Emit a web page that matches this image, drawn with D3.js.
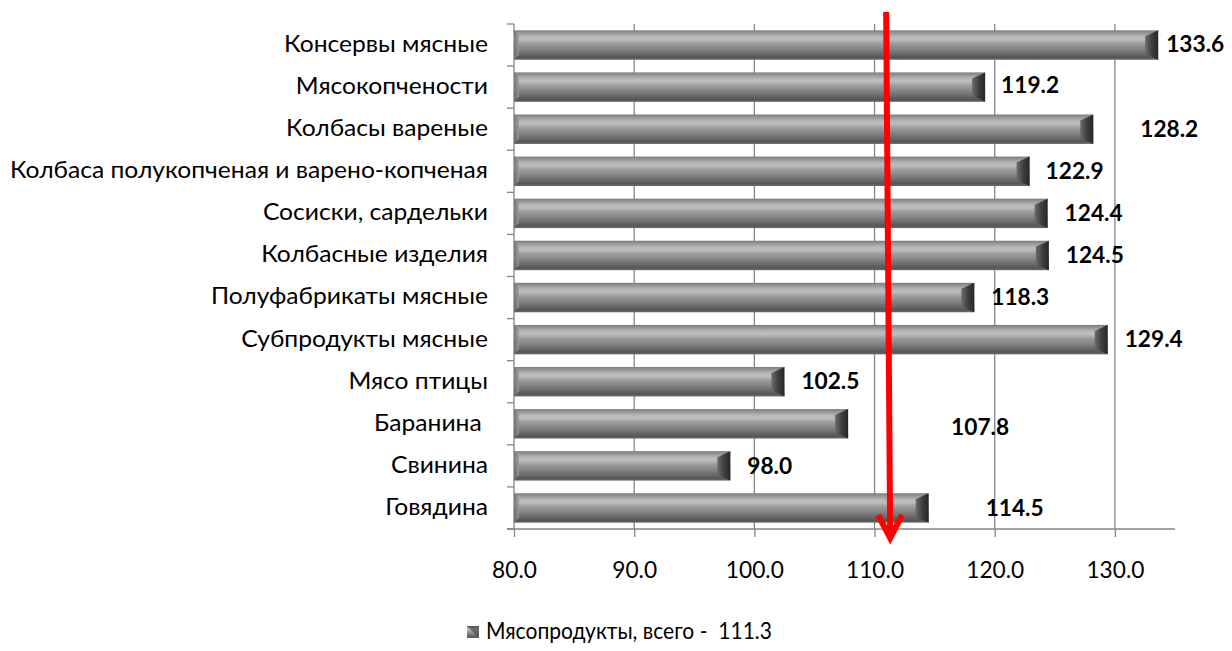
<!DOCTYPE html>
<html><head><meta charset="utf-8">
<script src="https://cdn.jsdelivr.net/npm/d3@7"></script>
<style>
html,body{margin:0;padding:0;background:#fff;}
svg{display:block;}
text{font-family:Lato,"Open Sans",sans-serif;fill:#000;}
</style></head>
<body><svg id="chart" width="1232" height="651"></svg>
<script>
const categories = ["Консервы мясные","Мясокопчености","Колбасы вареные","Колбаса полукопченая и варено-копченая","Сосиски, сардельки","Колбасные изделия","Полуфабрикаты мясные","Субпродукты мясные","Мясо птицы","Баранина ","Свинина","Говядина"];
const values = [133.6,119.2,128.2,122.9,124.4,124.5,118.3,129.4,102.5,107.8,98.0,114.5];
const xTicks = [80,90,100,110,120,130];
const seriesName = "Мясопродукты, всего -  111.3";
const totalValue = 111.3;
// label placement nudges (px) as in the original
const labelDx = [8,16,47,16,17,17,17,17,17,103,17,57];
const labelDy = [1.5,0,1.5,1.5,2,1.5,1.5,1.5,1.5,5,2,2];

const svg = d3.select("#chart");
const x = d3.scaleLinear().domain([80,135]).range([514,1175]);
const y = d3.scaleBand().domain(categories).range([24,529]).paddingInner(0.3).paddingOuter(0.15);
const axisColor = "#868686";

function natWidth(str, weight, size){
  const t = svg.append("text").attr("font-size",size).attr("font-weight",weight).style("white-space","pre").text(str);
  const w = t.node().getComputedTextLength(); t.remove(); return w;
}
// condense text horizontally so a sample string matches the original width
function condense(sel, weight, size, sample, target){
  const f = target / natWidth(sample, weight, size);
  sel.attr("font-size",size).attr("font-weight",weight).each(function(){
    const w = this.getComputedTextLength();
    d3.select(this).attr("textLength", w*f).attr("lengthAdjust","spacingAndGlyphs");
  });
}

const defs = svg.append("defs");
const g1 = defs.append("linearGradient").attr("id","barGrad").attr("x1",0).attr("y1",0).attr("x2",0).attr("y2",1);
[[0,"#7c7c7c"],[0.07,"#909090"],[0.22,"#b8b8b8"],[0.32,"#bdbdbd"],[0.45,"#9c9c9c"],[0.62,"#868686"],[0.8,"#6a6a6a"],[0.92,"#555555"],[1,"#6c6c6c"]]
  .forEach(([o,c])=>g1.append("stop").attr("offset",o).attr("stop-color",c));
const g2 = defs.append("linearGradient").attr("id","bevR").attr("x1",0).attr("y1",0).attr("x2",1).attr("y2",0);
[[0,"#6c6c6c"],[0.5,"#404040"],[1,"#262626"]].forEach(([o,c])=>g2.append("stop").attr("offset",o).attr("stop-color",c));
const g3 = defs.append("linearGradient").attr("id","bevL").attr("x1",0).attr("y1",0).attr("x2",1).attr("y2",0);
[[0,"#6a6a6a"],[1,"#9a9a9a"]].forEach(([o,c])=>g3.append("stop").attr("offset",o).attr("stop-color",c));

// gridlines
svg.append("g").selectAll("line").data(xTicks.slice(1)).join("line")
  .attr("x1",d=>x(d)).attr("x2",d=>x(d)).attr("y1",24).attr("y2",529)
  .attr("stroke",axisColor).attr("stroke-width",1.3);

// x axis
const xAxis = svg.append("g").attr("transform","translate(0,529)")
  .call(d3.axisBottom(x).tickValues(xTicks).tickFormat(d3.format(".1f")).tickSize(8).tickSizeOuter(0));
xAxis.select(".domain").attr("stroke",axisColor).attr("stroke-width",1.3).attr("d","M507,0H1175");
xAxis.selectAll(".tick line").attr("stroke",axisColor).attr("stroke-width",1.3);
const tickTexts = xAxis.selectAll(".tick text").attr("font-family","Lato").attr("fill","#000")
  .attr("dy",null).attr("y",43).attr("dominant-baseline","middle");
condense(tickTexts,"normal",23,"110.0",58);

// y axis (ticks on band boundaries)
const bounds = d3.range(categories.length+1).map(i=>24+ i*(505/categories.length));
svg.append("line").attr("x1",514).attr("x2",514).attr("y1",24).attr("y2",529).attr("stroke",axisColor).attr("stroke-width",1.3);
svg.append("g").selectAll("line").data(bounds).join("line")
  .attr("x1",507).attr("x2",514).attr("y1",d=>d).attr("y2",d=>d).attr("stroke",axisColor).attr("stroke-width",1.3);

// category labels
const catTexts = svg.append("g").selectAll("text").data(categories).join("text")
  .attr("x",488).attr("y",d=>y(d)+y.bandwidth()/2+1)
  .attr("text-anchor","end").attr("dominant-baseline","middle")
  .style("white-space","pre").text(d=>d);
condense(catTexts,"normal",23.5,categories[3],478);

// bars
const bars = svg.append("g").selectAll("g").data(values).join("g");
bars.append("rect")
  .attr("x",x(80)).attr("y",(d,i)=>y(categories[i]))
  .attr("width",d=>x(d)-x(80)).attr("height",y.bandwidth())
  .attr("fill","url(#barGrad)");
bars.append("path").attr("fill","url(#bevR)").attr("d",(d,i)=>{
  const t=y(categories[i]), b=t+y.bandwidth(), e=x(d);
  return `M${e-13},${t+6}L${e},${t}L${e},${b}L${e-13},${b-6}Z`;});
bars.append("path").attr("fill","url(#bevL)").attr("opacity",0.8).attr("d",(d,i)=>{
  const t=y(categories[i]), b=t+y.bandwidth(), s=x(80);
  return `M${s},${t}L${s+5},${t+5}L${s+5},${b-5}L${s},${b}Z`;});

// value labels
const valTexts = svg.append("g").selectAll("text").data(values).join("text")
  .attr("x",(d,i)=>x(d)+labelDx[i])
  .attr("y",(d,i)=>y(categories[i])+y.bandwidth()/2+labelDy[i])
  .attr("dominant-baseline","middle").text(d=>d3.format(".1f")(d));
condense(valTexts,"bold",23,"133.6",58);

// red arrow for total
const ax = x(totalValue);
svg.append("line").attr("x1",ax-4).attr("y1",12).attr("x2",ax).attr("y2",536)
  .attr("stroke","#ff0000").attr("stroke-width",6);
svg.append("path").attr("d",`M${ax-12},515L${ax},538L${ax+12},515`)
  .attr("fill","none").attr("stroke","#ff0000").attr("stroke-width",6).attr("stroke-linejoin","miter");

// legend
svg.append("rect").attr("x",467).attr("y",626).attr("width",12).attr("height",12).attr("fill","url(#barGrad)");
svg.append("path").attr("d","M467,626L479,638L479,626Z").attr("fill","#4a4a4a").attr("opacity",0.7);
const legText = svg.append("text").attr("x",486).attr("y",633).attr("dominant-baseline","middle")
  .style("white-space","pre").text(seriesName);
condense(legText,"normal",23.5,seriesName,286);
</script></body></html>
